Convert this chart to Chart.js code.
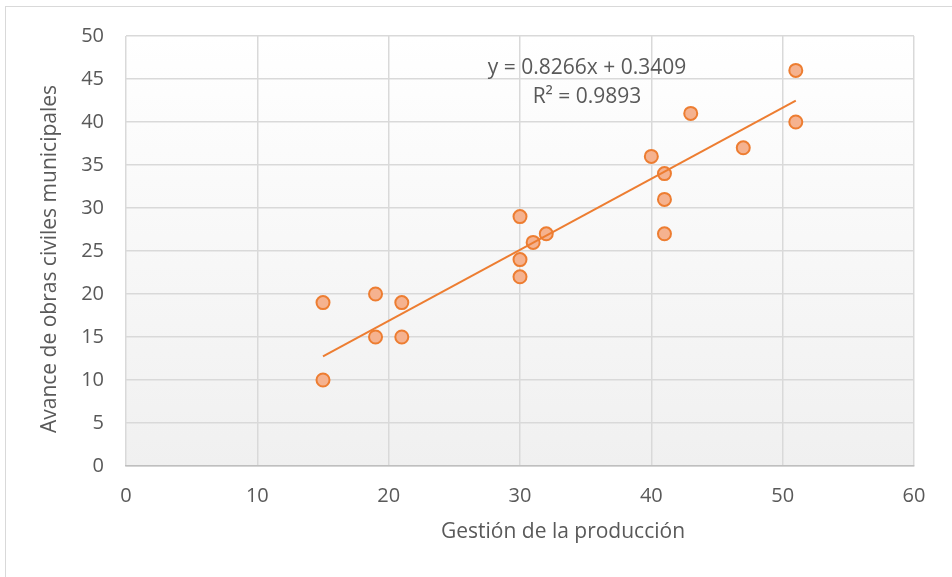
<!DOCTYPE html>
<html>
<head>
<meta charset="utf-8">
<script src="https://cdn.jsdelivr.net/npm/chart.js@4/dist/chart.umd.min.js"></script>
<style>
    html, body { margin: 0; padding: 0; background: #fff; }
    .frame { position: absolute; left: 5px; top: 6px; width: 1000px; height: 620px; border: 1px solid #d9d9d9; box-sizing: border-box; }
    .wrap { position: absolute; left: 0; top: 0; width: 952px; height: 577px; }
</style>
</head>
<body>
<div class="frame"></div>
<div class="wrap"><canvas id="scatterChart"></canvas></div>
<script>
// Data
const gestion = [15, 15, 19, 19, 21, 21, 30, 30, 30, 31, 32, 40, 41, 41, 41, 43, 47, 51, 51];
const avance  = [19, 10, 20, 15, 19, 15, 29, 24, 22, 26, 27, 36, 34, 31, 27, 41, 37, 46, 40];
const slope = 0.8266;
const intercept = 0.3409;
const rSquared = 0.9893;
const xTicks = [0, 10, 20, 30, 40, 50, 60];
const yTicks = [0, 5, 10, 15, 20, 25, 30, 35, 40, 45, 50];
const xTitle = 'Gestión de la producción';
const yTitle = 'Avance de obras civiles municipales';

const points = gestion.map((x, i) => ({ x: x, y: avance[i] }));
const xMin = Math.min(...gestion);
const xMax = Math.max(...gestion);
const trend = [xMin, xMax].map(x => ({ x: x, y: slope * x + intercept }));

const fontFamily = '"Open Sans", sans-serif';
const textColor = '#595959';

// plot area gradient, trendline label and axis titles (placed like the original)
const plotBg = {
    id: 'plotBg',
    beforeDraw(chart) {
        const { ctx, chartArea: a } = chart;
        const g = ctx.createLinearGradient(0, a.top, 0, a.bottom);
        g.addColorStop(0, '#ffffff');
        g.addColorStop(1, '#f0f0f0');
        ctx.save();
        ctx.fillStyle = g;
        ctx.fillRect(a.left, a.top, a.right - a.left, a.bottom - a.top);
        ctx.restore();
    },
    afterDraw(chart) {
        const { ctx } = chart;
        ctx.save();
        ctx.fillStyle = textColor;
        ctx.font = '21px ' + fontFamily;
        ctx.textAlign = 'center';
        ctx.textBaseline = 'middle';
        ctx.fillText('y = ' + slope + 'x + ' + intercept, 587, 68);
        ctx.fillText('R² = ' + rSquared, 587, 97);
        ctx.fillText(xTitle, 563, 532);
        ctx.translate(50, 259);
        ctx.rotate(-Math.PI / 2);
        ctx.fillText(yTitle, 0, 0);
        ctx.restore();
    }
};

const ctx = document.getElementById('scatterChart');

if(ctx) {
    let chart = new Chart(ctx, {
        type: 'scatter',
        data: {
            datasets: [{
                label: 'Tendencia',
                type: 'line',
                data: trend,
                borderColor: '#ed7d31',
                borderWidth: 2,
                pointRadius: 0,
                fill: false,
                order: 0
            }, {
                label: 'Avance',
                data: points,
                pointRadius: 6.5,
                pointHoverRadius: 6.5,
                borderWidth: 2,
                borderColor: '#ed7d31',
                backgroundColor: '#f5b28f',
                order: 1
            }]
        },
        plugins: [plotBg],
        options: {
            responsive: true,
            maintainAspectRatio: false,
            animation: false,
            layout: {
                padding: { left: 28, top: 36, right: 38, bottom: 31 }
            },
            scales: {
                x: {
                    type: 'linear',
                    min: 0,
                    max: 60,
                    afterBuildTicks: s => { s.ticks = xTicks.map(v => ({ value: v })); },
                    afterFit: s => { s.height = 80; },
                    ticks: {
                        color: textColor,
                        padding: 18,
                        font: { size: 20, family: fontFamily }
                    },
                    grid: {
                        color: '#d9d9d9',
                        lineWidth: 1.5,
                        drawTicks: false
                    },
                    border: { color: '#bfbfbf', width: 1.5 },
                    title: { display: false }
                },
                y: {
                    min: 0,
                    max: 50,
                    afterBuildTicks: s => { s.ticks = yTicks.map(v => ({ value: v })); },
                    afterFit: s => { s.width = 98; },
                    ticks: {
                        color: textColor,
                        padding: 22,
                        font: { size: 20, family: fontFamily }
                    },
                    grid: {
                        color: '#d9d9d9',
                        lineWidth: 1.5,
                        drawTicks: false
                    },
                    border: { display: false },
                    title: { display: false }
                }
            },
            plugins: {
                legend: { display: false },
                tooltip: { enabled: false }
            }
        }
    });
}
</script>
</body>
</html>
